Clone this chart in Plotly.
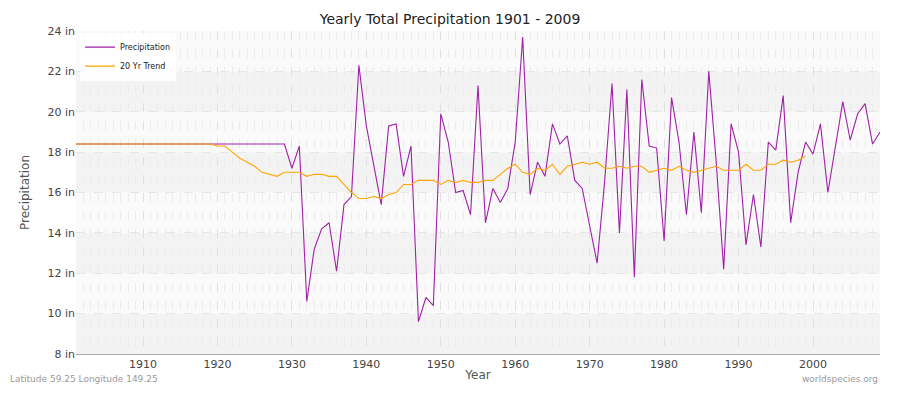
import plotly.graph_objects as go

years = list(range(1901, 2010))

precip = [18.4] * 29 + [
    17.2, 18.3, 10.6, 13.2, 14.2, 14.5, 12.1, 15.4, 15.8, 22.3,
    19.3, 17.4, 15.4, 19.3, 19.4, 16.8, 18.3, 9.6, 10.8, 10.4,
    19.9, 18.5, 16.0, 16.1, 14.9, 21.3, 14.5, 16.2, 15.5, 16.2,
    18.5, 23.7, 15.9, 17.5, 16.8, 19.4, 18.4, 18.8, 16.6, 16.2,
    14.3, 12.5, 16.5, 21.4, 14.0, 21.1, 11.8, 21.6, 18.3, 18.2,
    13.6, 20.7, 18.5, 14.9, 19.0, 15.0, 22.0, 17.5, 12.2, 19.4,
    18.0, 13.4, 15.9, 13.3, 18.5, 18.1, 20.8, 14.5, 17.0, 18.5,
    17.9, 19.4, 16.0, 18.2, 20.5, 18.6, 19.9, 20.4, 18.4, 19.0,
]

trend_years = list(range(1901, 2000))
trend = [18.4] * 19 + [
    18.3, 18.3, 18.0, 17.7, 17.5, 17.3, 17.0, 16.9, 16.8, 17.0,
    17.0, 17.0, 16.8, 16.9, 16.9, 16.8, 16.8, 16.4, 16.0, 15.7,
    15.7, 15.8, 15.7, 15.9, 16.0, 16.4, 16.4, 16.6, 16.6, 16.6,
    16.4, 16.6, 16.5, 16.6, 16.5, 16.5, 16.6, 16.6, 16.9, 17.2,
    17.4, 17.0, 16.9, 17.2, 17.1, 17.4, 16.9, 17.3, 17.4, 17.5,
    17.4, 17.5, 17.2, 17.2, 17.3, 17.2, 17.3, 17.3, 17.0, 17.1,
    17.2, 17.1, 17.3, 17.1, 17.0, 17.1, 17.2, 17.3, 17.1, 17.1,
    17.1, 17.4, 17.1, 17.1, 17.4, 17.4, 17.6, 17.5, 17.6, 17.8,
]

y_ticks = list(range(8, 25, 2))
y_labels = [f"{v} in" for v in y_ticks]

fig = go.Figure()
fig.add_trace(go.Scatter(x=years, y=precip, mode="lines", name="Precipitation",
                         line=dict(color="#a020a8", width=1.1)))
fig.add_trace(go.Scatter(x=trend_years, y=trend, mode="lines", name="20 Yr Trend",
                         line=dict(color="#ffa500", width=1.1)))

# alternating horizontal bands
for i, lo in enumerate(y_ticks[:-1]):
    fig.add_shape(type="rect", xref="paper", yref="y", x0=0, x1=1, y0=lo, y1=lo + 2,
                  fillcolor="#f3f3f3" if i % 2 == 0 else "#fafafa",
                  line_width=0, layer="below")

fig.update_layout(
    width=884, height=384,
    margin=dict(l=68, r=12, t=23, b=33),
    paper_bgcolor="white", plot_bgcolor="white",
    font=dict(family="DejaVu Sans", size=12, color="#555"),
    title=dict(text="Yearly Total Precipitation 1901 - 2009", x=0.5, xanchor="center",
               y=0.985, yanchor="top", font=dict(size=14, color="#222")),
    legend=dict(x=0.005, y=0.995, bgcolor="rgba(255,255,255,0.9)",
                font=dict(size=8, color="#222"), itemwidth=30, tracegroupgap=0),
    showlegend=True,
)
fig.update_xaxes(range=[1901, 2009], tickvals=list(range(1910, 2010, 10)),
                 title=dict(text="Year", font=dict(size=12, color="#555"), standoff=0),
                 showgrid=True, gridcolor="#e0e0e0", griddash="dash", gridwidth=1,
                 minor=dict(dtick=1, showgrid=True, gridcolor="#ececec", griddash="dash"),
                 zeroline=False, showline=True, linecolor="#aaa", ticks="",
                 tickfont=dict(size=11, color="#444"))
fig.update_yaxes(range=[8, 24], tickvals=y_ticks, ticktext=y_labels,
                 title=dict(text="Precipitation", font=dict(size=12, color="#555")),
                 showgrid=True, gridcolor="#e6e6e6", griddash="dash",
                 zeroline=False, showline=False, ticks="",
                 tickfont=dict(size=11, color="#444"))

fig.add_annotation(text="Latitude 59.25 Longitude 149.25", xref="paper", yref="paper",
                   x=-0.0846, y=-0.1, xanchor="left", yanchor="bottom", showarrow=False,
                   font=dict(size=9, color="#999"))
fig.add_annotation(text="worldspecies.org", xref="paper", yref="paper",
                   x=1.0, y=-0.1, xanchor="right", yanchor="bottom", showarrow=False,
                   font=dict(size=9, color="#999"))

fig.write_html("out.html")
